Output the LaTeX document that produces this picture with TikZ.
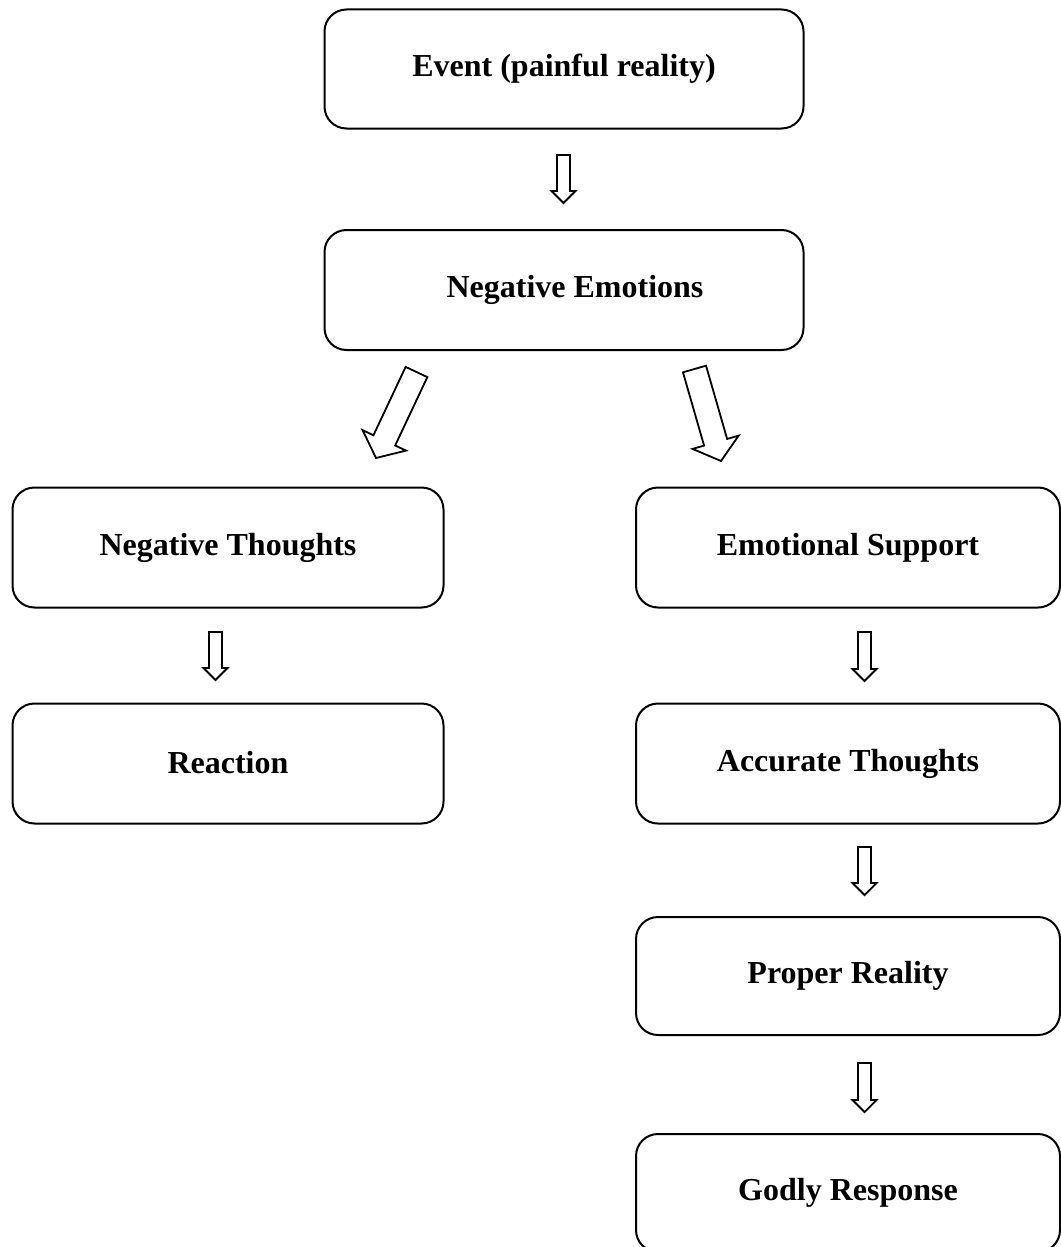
\documentclass[tikz,border=0pt]{standalone}
\usepackage{fontspec}
\setmainfont{Liberation Serif}
\usetikzlibrary{calc}
\tikzset{
  box/.style={draw, line width=2pt, rounded corners=22pt, font=\fontsize{32}{38}\selectfont\bfseries, inner sep=0pt},
  leftbox/.style={box, minimum width=431pt, minimum height=120pt},
  rightbox/.style={box, minimum width=424pt, minimum height=120pt},
  topbox/.style={box, minimum width=479pt, minimum height=119pt},
  arrowbody/.style={draw, line width=1.8pt, fill=white, line join=miter},
}
\newcommand\blockarrow[5]{%
  \coordinate (hb) at ($(#2)!#5!(#1)$);
  \draw[arrowbody] ($(#1)!#3!90:(#2)$) -- ($(hb)!#3!90:(#2)$) -- ($(hb)!#4!90:(#2)$) -- (#2)
     -- ($(hb)!#4!-90:(#2)$) -- ($(hb)!#3!-90:(#2)$) -- ($(#1)!#3!-90:(#2)$) -- cycle;}
\begin{document}
\begin{tikzpicture}[x=1pt,y=-1pt]
\useasboundingbox (0,0) rectangle (1060,1247);
\node[topbox] (event) at (564,69) {\raisebox{-1pt}{Event (painful reality)}};
\node[topbox, minimum height=120pt] (negem) at (564,290) {\hspace*{22pt}\raisebox{3pt}{Negative Emotions}};
\node[leftbox] (negth) at (228,547.5) {\raisebox{2pt}{Negative Thoughts}};
\node[leftbox] (react) at (228,763.5) {\raisebox{3pt}{Reaction}};
\node[rightbox] (emsup) at (848,547.5) {\raisebox{2pt}{Emotional Support}};
\node[rightbox] (acc) at (848,763.5) {\raisebox{3pt}{Accurate Thoughts}};
\node[rightbox, minimum height=118pt] (prop) at (848,976) {\raisebox{2pt}{Proper Reality}};
\node[rightbox, minimum height=118pt] (godly) at (848,1193) {\raisebox{1pt}{Godly Response}};

\coordinate (a1s) at (563.5,155);  \coordinate (a1e) at (563.5,203);
\coordinate (a2s) at (215.5,632);  \coordinate (a2e) at (215.5,680);
\coordinate (a3s) at (864.5,632);  \coordinate (a3e) at (864.5,681);
\coordinate (a4s) at (864.5,847);  \coordinate (a4e) at (864.5,895);
\coordinate (a5s) at (864.5,1063); \coordinate (a5e) at (864.5,1112);
\coordinate (d1s) at (416.5,372);  \coordinate (d1e) at (376,458);
\coordinate (d2s) at (694.5,369);  \coordinate (d2e) at (721,461);

\blockarrow{a1s}{a1e}{6.5pt}{12pt}{12pt}
\blockarrow{a2s}{a2e}{6.5pt}{12pt}{12pt}
\blockarrow{a3s}{a3e}{6.5pt}{12pt}{12pt}
\blockarrow{a4s}{a4e}{6.5pt}{12pt}{12pt}
\blockarrow{a5s}{a5e}{6.5pt}{12pt}{12pt}
\blockarrow{d1s}{d1e}{12pt}{24pt}{19.5pt}
\blockarrow{d2s}{d2e}{12pt}{24pt}{19.5pt}
\end{tikzpicture}
\end{document}
